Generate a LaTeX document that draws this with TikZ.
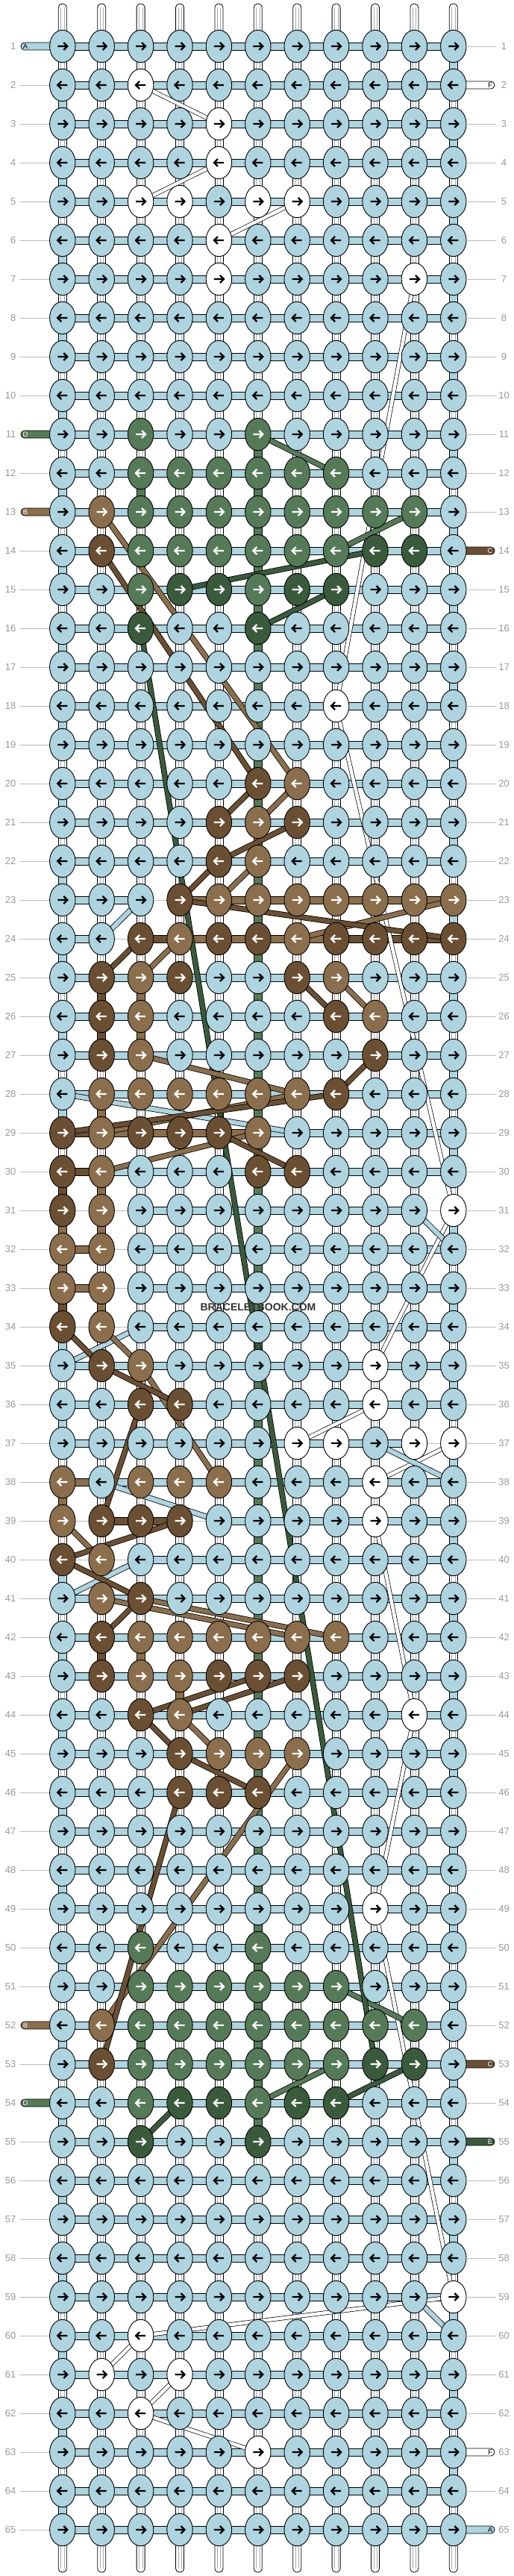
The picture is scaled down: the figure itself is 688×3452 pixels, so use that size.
\documentclass[tikz,border=0pt]{standalone}
\usepackage{fontspec}
\setmainfont{Liberation Sans}
\usetikzlibrary{shapes.geometric}
\pgfdeclarelayer{bg}\pgfdeclarelayer{mid}\pgfsetlayers{bg,mid,main}
\definecolor{ca}{HTML}{ADD4DF}
\definecolor{cw}{HTML}{FFFFFF}
\definecolor{cg}{HTML}{557A57}
\definecolor{cG}{HTML}{3A5A3C}
\definecolor{cb}{HTML}{8B6E4C}
\definecolor{cd}{HTML}{6B4F32}
\definecolor{numgray}{HTML}{999999}
\definecolor{tickgray}{HTML}{BBBBBB}
\definecolor{innergray}{HTML}{AAAAAA}
\def\arca{black}\def\arcw{black}\def\arcg{white}\def\arcG{white}\def\arcb{white}\def\arcd{white}
\newcount\kcol
\def\kgobble#1{}
\def\kfirst#1{#1}
\def\krow#1#2{\kcol=0 \def\kr{#1}\kparse#2\relax}
\def\kparse#1{\ifx#1\relax\expandafter\kgobble\else\expandafter\kfirst\fi{\kstep{#1}\kparse}}
\def\kstep#1{\advance\kcol by 1\relax\drawknot{#1}}
\def\drawknot#1{%
  \pgfmathsetmacro\xx{83.8+(\the\kcol-1)*52.4}%
  \pgfmathsetmacro\yy{62+(\kr-1)*52}%
  \ifodd\kr\relax\def\dir{1}\else\def\dir{-1}\fi
  \pgfmathsetmacro\xa{\xx-6.5*\dir}%
  \pgfmathsetmacro\xb{\xx+5.5*\dir}%
  \pgfmathsetmacro\xc{\xx+1.5*\dir}%
  \pgfmathsetmacro\xd{\xx+6.5*\dir}%
  \edef\kn{k-\kr-\the\kcol}%
  \edef\acol{\csname arc#1\endcsname}%
  \node[knot,fill=c#1] (\kn) at (\xx,\yy) {};%
  \draw[karrow,draw=\acol] (\xa,\yy) -- (\xb,\yy)
     (\xc,\yy-5) -- (\xd,\yy) -- (\xc,\yy+5);%
}
\def\vc#1#2#3{\expandafter\def\csname vc-#1-#2\endcsname{#3}}
\def\bd#1#2#3{\expandafter\def\csname bd-#1-#2\endcsname{#3}}
\def\nonename{none}
\def\Wname{W}
\newcommand\sline[3]{\draw[sl,double=#1] (k-#2.center) -- (k-#3.center);}
\newcommand\fline[2]{\draw[fl] (k-#1.center) -- (k-#2.center);}
\newcommand\lstrand[4]{%
  \pgfmathsetmacro\yy{62+(#1-1)*52}%
  \begin{pgfonlayer}{bg}
  \filldraw[fill=#3,draw=black,line width=0.8pt,rounded corners=4.9pt] (84,\yy-5)--(28,\yy-5)--(28,\yy+5)--(84,\yy+5);
  \end{pgfonlayer}
  \node[slab,text=#4] (sl-#1) at (34,\yy) {#2};
  \expandafter\gdef\csname ls-#1\endcsname{}}
\newcommand\rstrand[4]{%
  \pgfmathsetmacro\yy{62+(#1-1)*52}%
  \begin{pgfonlayer}{bg}
  \filldraw[fill=#3,draw=black,line width=0.8pt,rounded corners=4.9pt] (607,\yy-5)--(663,\yy-5)--(663,\yy+5)--(607,\yy+5);
  \end{pgfonlayer}
  \node[slab,text=#4] (sr-#1) at (657,\yy) {#2};
  \expandafter\gdef\csname rs-#1\endcsname{}}
\begin{document}
\begin{tikzpicture}[x=1pt,y=-1pt,
  knot/.style={ellipse,draw=black,line width=0.9pt,minimum width=34.4pt,minimum height=43.4pt,inner sep=0pt},
  karrow/.style={line width=2.3pt,line join=miter},
  sl/.style={line width=0.8pt,draw=black,double distance=6pt},
  fl/.style={line width=0.7pt,draw=black,double=white,double distance=4.5pt},
  num/.style={text=numgray,font=\fontsize{13}{13}\selectfont,inner sep=0pt},
  tick/.style={draw=tickgray,line width=0.9pt},
  slab/.style={font=\fontsize{9.5}{9.5}\selectfont,inner sep=0pt}]
\useasboundingbox (0,0) rectangle (688,3452);
\begin{pgfonlayer}{bg}
\fill[white] (0,0) rectangle (688,3452);
\end{pgfonlayer}
% ---------------- knots
\krow{1}{aaaaaaaaaaa}
\krow{2}{aawaaaaaaaa}
\krow{3}{aaaawaaaaaa}
\krow{4}{aaaawaaaaaa}
\krow{5}{aawwawwaaaa}
\krow{6}{aaaawaaaaaa}
\krow{7}{aaaawaaaawa}
\krow{8}{aaaaaaaaaaa}
\krow{9}{aaaaaaaaaaa}
\krow{10}{aaaaaaaaaaa}
\krow{11}{aagaagaaaaa}
\krow{12}{aaggggggaaa}
\krow{13}{abgggggggga}
\krow{14}{adggggggGGa}
\krow{15}{aagGGgGGaaa}
\krow{16}{aaGaaGaaaaa}
\krow{17}{aaaaaaaaaaa}
\krow{18}{aaaaaaawaaa}
\krow{19}{aaaaaaaaaaa}
\krow{20}{aaaaadbaaaa}
\krow{21}{aaaadbdaaaa}
\krow{22}{aaaadbaaaaa}
\krow{23}{aaadbbbbbbb}
\krow{24}{aadbddbdddd}
\krow{25}{adbdaadbaaa}
\krow{26}{adbaaaadbaa}
\krow{27}{adbaaaaadaa}
\krow{28}{abbbbbbdaaa}
\krow{29}{dbdddbaaaaa}
\krow{30}{dbaaaddaaaa}
\krow{31}{dbaaaaaaaaw}
\krow{32}{bbaaaaaaaaa}
\krow{33}{bbaaaaaaaaa}
\krow{34}{dbaaaaaaaaa}
\krow{35}{adbaaaaawaa}
\krow{36}{aaddaaaawaa}
\krow{37}{aaaaaawwaww}
\krow{38}{babbbaaawaa}
\krow{39}{bdddaaaawaa}
\krow{40}{dbaaaaaaaaa}
\krow{41}{abdaaaaaaaa}
\krow{42}{adbbbbbbaaa}
\krow{43}{adbbdddaaaa}
\krow{44}{aadbaaaaawa}
\krow{45}{aaadbbbaaaa}
\krow{46}{aaadddaaaaa}
\krow{47}{aaaaaaaaaaa}
\krow{48}{aaaaaaaaaaa}
\krow{49}{aaaaaaaawaa}
\krow{50}{aagaagaaaaa}
\krow{51}{aaggggggaaa}
\krow{52}{abgggggggga}
\krow{53}{adggggggGGa}
\krow{54}{aagGGgGGaaa}
\krow{55}{aaGaaGaaaaa}
\krow{56}{aaaaaaaaaaa}
\krow{57}{aaaaaaaaaaa}
\krow{58}{aaaaaaaaaaa}
\krow{59}{aaaaaaaaaaw}
\krow{60}{aawaaaaaaaa}
\krow{61}{awawaaaaaaa}
\krow{62}{aawaaaaaaaa}
\krow{63}{aaaaawaaaaa}
\krow{64}{aaaaaaaaaaa}
\krow{65}{aaaaaaaaaaa}
% ---------------- vertical connector overrides
\vc{25}{2}{cd}\vc{26}{2}{cd}\vc{25}{3}{cb}\vc{26}{3}{cb}\vc{28}{2}{cb}
\vc{30}{1}{cd}\vc{30}{2}{cb}\vc{31}{1}{cb}\vc{31}{2}{cb}\vc{32}{1}{cb}
\vc{33}{1}{cd}\vc{33}{2}{cb}\vc{38}{1}{cb}\vc{42}{2}{cd}\vc{42}{3}{cb}
\vc{43}{4}{cb}\vc{12}{3}{cg}\vc{52}{3}{cg}\vc{21}{6}{cb}
% ---------------- band overrides
\bd{23}{3}{none}\bd{23}{4}{cb}\bd{23}{5}{cb}\bd{23}{6}{cb}\bd{23}{7}{cb}\bd{23}{8}{cb}\bd{23}{9}{cb}\bd{23}{10}{cb}
\bd{24}{2}{none}\bd{24}{3}{cd}\bd{24}{4}{cb}\bd{24}{5}{cb}\bd{24}{6}{cb}\bd{24}{7}{cb}\bd{24}{8}{cd}\bd{24}{9}{cd}\bd{24}{10}{cd}
\bd{29}{1}{cd}\bd{29}{2}{cb}\bd{29}{3}{cb}\bd{29}{4}{cb}\bd{29}{5}{cb}
\bd{30}{1}{cd}
\bd{31}{1}{none}\bd{31}{2}{none}\bd{31}{10}{none}
\bd{32}{1}{cb}\bd{32}{2}{none}
\bd{33}{1}{cb}\bd{33}{2}{none}
\bd{34}{1}{none}\bd{34}{2}{none}
\bd{37}{10}{none}
\bd{38}{1}{cb}
\bd{39}{1}{none}\bd{39}{2}{cd}\bd{39}{3}{cd}\bd{39}{4}{none}
\bd{40}{1}{none}\bd{40}{2}{none}
% ---------------- background layer: strings
\begin{pgfonlayer}{bg}
\foreach \c in {1,...,11}{
  \pgfmathsetmacro\xx{83.8+(\c-1)*52.4}
  \filldraw[fill=white,draw=black,line width=0.8pt,rounded corners=5pt] (\xx-5.5,62)--(\xx-5.5,5)--(\xx+5.5,5)--(\xx+5.5,62);
  \draw[innergray,line width=0.6pt] (\xx-2.2,10)--(\xx-2.2,62) (\xx+2.2,10)--(\xx+2.2,62);
  \filldraw[fill=white,draw=black,line width=0.8pt,rounded corners=5pt] (\xx-5.5,3390)--(\xx-5.5,3447)--(\xx+5.5,3447)--(\xx+5.5,3390);
  \draw[innergray,line width=0.6pt] (\xx-2.2,3390)--(\xx-2.2,3442) (\xx+2.2,3390)--(\xx+2.2,3442);
}
\foreach \r in {1,...,64}{
  \foreach \c in {1,...,11}{
    \def\vcol{W}%
    \ifnum\c=11 \ifodd\r\relax\def\vcol{ca}\fi\fi
    \ifnum\c=1 \ifodd\r\relax\else\def\vcol{ca}\fi\fi
    \ifnum\c=6 \ifnum\r>10 \ifnum\r<55 \def\vcol{cg}\fi\fi\fi
    \ifcsname vc-\r-\c\endcsname\edef\vcol{\csname vc-\r-\c\endcsname}\fi
    \pgfmathsetmacro\xx{83.8+(\c-1)*52.4}
    \pgfmathsetmacro\ya{62+(\r-1)*52}
    \pgfmathsetmacro\yb{\ya+52}
    \ifx\vcol\Wname
      \fill[white] (\xx-5.5,\ya) rectangle (\xx+5.5,\yb);
      \draw[innergray,line width=0.6pt] (\xx-2.2,\ya)--(\xx-2.2,\yb) (\xx+2.2,\ya)--(\xx+2.2,\yb);
    \else
      \fill[\vcol] (\xx-5.5,\ya) rectangle (\xx+5.5,\yb);
    \fi
    \draw[line width=0.8pt] (\xx-5.5,\ya)--(\xx-5.5,\yb) (\xx+5.5,\ya)--(\xx+5.5,\yb);
  }
}
\foreach \r in {1,...,65}{
  \foreach \s in {1,...,10}{
    \ifcsname bd-\r-\s\endcsname\edef\bc{\csname bd-\r-\s\endcsname}\else\def\bc{ca}\fi
    \pgfmathsetmacro\xa{83.8+(\s-1)*52.4}
    \pgfmathsetmacro\xb{\xa+52.4}
    \pgfmathsetmacro\yy{62+(\r-1)*52}
    \ifx\bc\nonename
      \draw[tick] (\xa,\yy)--(\xb,\yy);
    \else
      \fill[\bc] (\xa,\yy-5) rectangle (\xb,\yy+5);
      \draw[line width=0.8pt] (\xa,\yy-5)--(\xb,\yy-5) (\xa,\yy+5)--(\xb,\yy+5);
    \fi
  }
}
\end{pgfonlayer}
% ---------------- side strands
\lstrand{1}{A}{ca}{black}
\lstrand{11}{D}{cg}{white}
\lstrand{13}{B}{cb}{white}
\lstrand{52}{B}{cb}{white}
\lstrand{54}{D}{cg}{white}
\rstrand{2}{F}{white}{black}
\rstrand{14}{C}{cd}{white}
\rstrand{53}{C}{cd}{white}
\rstrand{55}{E}{cG}{white}
\rstrand{63}{F}{white}{black}
\rstrand{65}{A}{ca}{black}
\foreach \r in {1,...,65}{
  \pgfmathsetmacro\yy{62+(\r-1)*52}
  \ifcsname ls-\r\endcsname\else\draw[tick] (26,\yy)--(66,\yy);\fi
  \node[num,anchor=east] (nl-\r) at (21.5,\yy) {\r};
  \ifcsname rs-\r\endcsname\else\draw[tick] (625,\yy)--(665,\yy);\fi
  \node[num] (nr-\r) at (675.5,\yy) {\r};
}
% ---------------- string paths
\begin{pgfonlayer}{mid}
% white string F
\fline{2-3}{3-5}\fline{4-5}{5-3}\fline{5-7}{6-5}
\fline{7-10}{18-8}\fline{18-8}{31-11}\fline{31-11}{35-9}
\fline{36-9}{37-7}\fline{37-11}{38-9}\fline{39-9}{44-10}
\fline{44-10}{49-9}\fline{49-9}{59-11}\fline{59-11}{60-3}
\fline{60-3}{61-2}\fline{61-4}{62-3}\fline{62-3}{63-6}
% light blue
\sline{ca}{23-3}{24-2}\sline{ca}{28-1}{29-7}\sline{ca}{31-10}{32-11}
\sline{ca}{34-3}{35-1}\sline{ca}{37-9}{38-11}\sline{ca}{38-2}{39-5}
\sline{ca}{40-3}{41-1}\sline{ca}{59-10}{60-11}
% green
\sline{cg}{11-6}{12-8}\sline{cg}{13-10}{14-8}\sline{cg}{51-8}{52-10}\sline{cg}{53-8}{54-6}
% dark green
\sline{cG}{16-3}{53-9}
\sline{cG}{14-9}{15-4}\sline{cG}{15-8}{16-6}\sline{cG}{53-10}{54-8}\sline{cG}{54-4}{55-3}
% brown
\sline{cb}{13-2}{20-7}\sline{cb}{20-7}{21-6}\sline{cb}{22-6}{23-5}\sline{cb}{23-11}{24-7}
\sline{cb}{24-4}{25-3}\sline{cb}{25-8}{26-9}\sline{cb}{27-3}{28-7}\sline{cb}{28-7}{29-2}
\sline{cb}{29-6}{30-2}\sline{cb}{34-2}{35-3}\sline{cb}{35-3}{38-5}\sline{cb}{39-1}{40-2}
\sline{cb}{41-2}{42-7}\sline{cb}{41-3}{42-8}\sline{cb}{44-4}{45-5}\sline{cb}{45-7}{52-2}
% dark brown
\sline{cd}{14-2}{20-6}\sline{cd}{20-6}{21-5}\sline{cd}{21-7}{22-5}\sline{cd}{22-5}{23-4}
\sline{cd}{23-4}{24-11}\sline{cd}{24-3}{25-2}\sline{cd}{25-7}{26-8}\sline{cd}{27-9}{28-8}
\sline{cd}{28-8}{29-1}\sline{cd}{29-5}{30-7}\sline{cd}{34-1}{35-2}\sline{cd}{35-2}{36-4}
\sline{cd}{36-3}{39-2}\sline{cd}{39-4}{40-1}\sline{cd}{40-1}{41-3}\sline{cd}{41-3}{42-2}
\sline{cd}{43-7}{44-4}\sline{cd}{43-6}{44-3}\sline{cd}{44-3}{45-4}\sline{cd}{45-4}{46-6}
\sline{cd}{46-4}{53-2}
\end{pgfonlayer}
\node[font=\fontsize{14}{14}\selectfont\bfseries,text=black!80,inner sep=0pt] (wm) at (346,1752) {BRACELETBOOK.COM};
\end{tikzpicture}
\end{document}
